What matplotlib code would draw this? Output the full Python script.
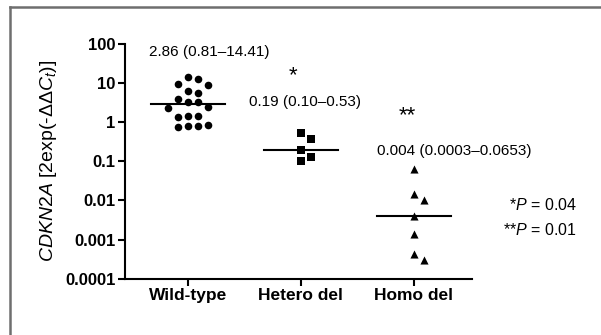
import numpy as np
import matplotlib
matplotlib.use("Agg")
import matplotlib.pyplot as plt
from matplotlib.lines import Line2D

plt.rcParams['font.family'] = ['Liberation Sans', 'DejaVu Sans']
plt.rcParams['mathtext.fontset'] = 'custom'
plt.rcParams['mathtext.rm'] = 'Liberation Sans'
plt.rcParams['mathtext.it'] = 'Liberation Sans:italic'
plt.rcParams['mathtext.bf'] = 'Liberation Sans:bold'

GROUPS = ["Wild-type", "Hetero del", "Homo del"]
WILD_TYPE = [14.4, 13.0, 9.3, 9.0, 6.2, 5.7, 3.8, 3.3, 3.3, 2.4, 2.3,
             1.45, 1.4, 1.35, 0.87, 0.82, 0.81, 0.76]
HETERO_DEL = [0.53, 0.38, 0.19, 0.13, 0.10]
HOMO_DEL = [0.0653, 0.015, 0.010, 0.0040, 0.0014, 0.00044, 0.0003]
MEDIANS = [2.86, 0.19, 0.004]
SUMMARY = ["2.86 (0.81\u201314.41)", "0.19 (0.10\u20130.53)",
           "0.004 (0.0003\u20130.0653)"]
STARS = ["", "*", "**"]
MARKERS = ['o', 's', '^']
YTICKS = [0.0001, 0.001, 0.01, 0.1, 1, 10, 100]
YTICKLABELS = ["0.0001", "0.001", "0.01", "0.1", "1", "10", "100"]


def swarm(ax, xc, values, dmin=9.0, step=10.0):
    # simple beeswarm in display pixels
    ys = [ax.transData.transform((xc, v))[1] for v in values]
    px_per_x = ax.transData.transform((1, 1))[0] - ax.transData.transform((0, 1))[0]
    placed = []
    offs = []
    for y in ys:
        k = 0
        while True:
            cands = [0.0] if k == 0 else [k * step, -k * step]
            ok = None
            for c in cands:
                if all((c - px) ** 2 + (y - py) ** 2 >= dmin ** 2 for px, py in placed):
                    ok = c
                    break
            if ok is not None:
                placed.append((ok, y))
                offs.append(ok / px_per_x)
                break
            k += 1
    return np.array(offs)


def main():
    fig = plt.figure(figsize=(6.01, 3.35), dpi=100)
    ax = fig.add_axes([0.208, 0.168, 0.577, 0.701])
    ax.set_yscale('log')
    ax.set_ylim(1e-4, 1e2)
    ax.set_xlim(-0.558, 2.513)

    data = [WILD_TYPE, HETERO_DEL, HOMO_DEL]
    for i, vals in enumerate(data):
        offs = swarm(ax, i, vals)
        ax.scatter(i + offs, vals, marker=MARKERS[i], s=30 if i == 0 else 34,
                   color='black', linewidths=0, zorder=3)
        ax.plot([i - 0.33, i + 0.33], [MEDIANS[i]] * 2, color='black', lw=1.5,
                zorder=2)

    # summary text and stars
    ax.text(0.19, 63, SUMMARY[0], ha='center', va='center', fontsize=11)
    ax.text(0.93, 15, STARS[1], ha='center', va='center', fontsize=16)
    ax.text(1.04, 3.2, SUMMARY[1], ha='center', va='center', fontsize=11)
    ax.text(1.94, 1.5, STARS[2], ha='center', va='center', fontsize=16)
    ax.text(2.36, 0.18, SUMMARY[2], ha='center', va='center', fontsize=11)

    fig.text(0.96, 0.388, r"*$\mathit{P}$ = 0.04", ha='right', va='center',
             fontsize=11.5)
    fig.text(0.96, 0.313, r"**$\mathit{P}$ = 0.01", ha='right', va='center',
             fontsize=11.5)

    ax.set_yticks(YTICKS)
    ax.set_yticklabels(YTICKLABELS, fontweight='bold', fontsize=12)
    ax.minorticks_off()
    ax.set_xticks(range(len(GROUPS)))
    ax.set_xticklabels(GROUPS, fontweight='bold', fontsize=12.5)
    ax.tick_params(axis='both', direction='out', length=5, width=1.5, pad=2)

    for side in ['top', 'right']:
        ax.spines[side].set_visible(False)
    for side in ['left', 'bottom']:
        ax.spines[side].set_linewidth(1.5)

    ax.set_ylabel(r"$\mathit{CDKN2A}$ [2exp(-ΔΔ$\mathit{C}_{\mathit{t}}$)]",
                  fontsize=14, labelpad=4)

    # grey frame around the panel
    fx = 10 / 601
    fy = 1 - 7 / 335
    fig.add_artist(Line2D([fx, fx], [0, fy], color='#6e6e6e', lw=1.8,
                          transform=fig.transFigure))
    fig.add_artist(Line2D([fx, 1], [fy, fy], color='#6e6e6e', lw=1.8,
                          transform=fig.transFigure))

    fig.savefig('out.png', dpi=100)


if __name__ == "__main__":
    main()
